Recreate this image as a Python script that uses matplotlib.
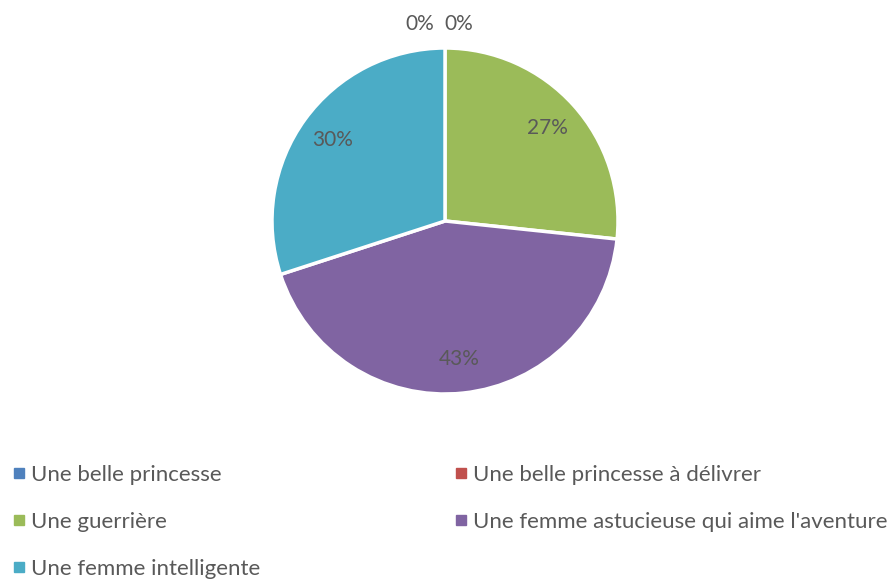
import matplotlib
matplotlib.use('Agg')
import matplotlib.pyplot as plt
from matplotlib.lines import Line2D
import numpy as np

plt.rcParams['font.family'] = ['Lato', 'DejaVu Sans']

# Survey answers (counts) and their colours
categories = ['Une belle princesse', 'Une belle princesse à délivrer',
              'Une guerrière', 'Une femme astucieuse qui aime l\'aventure',
              'Une femme intelligente']
counts = [0, 0, 8, 13, 9]
colors = ['#4F81BD', '#C0504D', '#9BBB59', '#8064A2', '#4BACC6']
text_color = '#595959'

fig = plt.figure(figsize=(8.96, 5.79), dpi=100)
ax = fig.add_axes([272 / 896, 1 - 394 / 579, 346 / 896, 346 / 579])

total = sum(counts)
wedges, _ = ax.pie(counts, colors=colors, startangle=90, counterclock=False,
                   wedgeprops=dict(edgecolor='white', linewidth=2.5))
ax.set_xlim(-1, 1)
ax.set_ylim(-1, 1)
ax.set_aspect('equal')
ax.axis('off')

# Percentage labels: inside the slice for non-empty ones, above the pie for zeros
zero_pos = [(-0.145, 1.14), (0.08, 1.14)]
zi = 0
for w, c in zip(wedges, counts):
    pct = f'{round(100 * c / total)}%'
    if c == 0:
        x, y = zero_pos[zi]
        zi += 1
    else:
        mid = np.deg2rad((w.theta1 + w.theta2) / 2)
        x, y = 0.8 * np.cos(mid), 0.8 * np.sin(mid)
    ax.text(x, y, pct, ha='center', va='center', fontsize=15,
            color=text_color, clip_on=False)

# Two-column legend at the bottom
def make_handles(idx):
    return [Line2D([], [], linestyle='none', marker='s', markersize=7,
                   markerfacecolor=colors[i], markeredgecolor=colors[i])
            for i in idx], [categories[i] for i in idx]

legend_kw = dict(frameon=False, fontsize=16, labelcolor=text_color,
                 handlelength=0.55, handletextpad=0.25, labelspacing=1.22,
                 borderaxespad=0, borderpad=0)
h, l = make_handles([0, 2, 4])
fig.legend(h, l, loc='upper left',
           bbox_to_anchor=(13 / 896, 1 - 465 / 579), **legend_kw)
h, l = make_handles([1, 3])
fig.legend(h, l, loc='upper left',
           bbox_to_anchor=(455 / 896, 1 - 465 / 579), **legend_kw)

fig.savefig('out.png', dpi=100)
plt.close(fig)
